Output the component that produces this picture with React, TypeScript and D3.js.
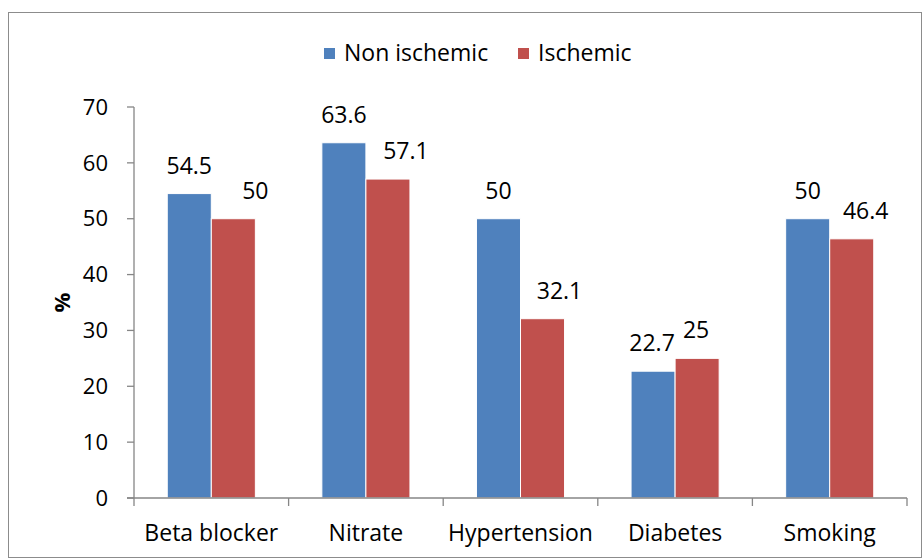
import { useMemo } from "react";
import * as d3 from "d3";

const categories = ["Beta blocker", "Nitrate", "Hypertension", "Diabetes", "Smoking"];
const seriesNames = ["Non ischemic", "Ischemic"];
const nonIschemic = [54.5, 63.6, 50, 22.7, 50];
const ischemic = [50, 57.1, 32.1, 25, 46.4];
const yTicks = [0, 10, 20, 30, 40, 50, 60, 70];

// data labels nudged sideways in the original (Ischemic series)
const LABEL_DX = [
  [0, 0, 0, -1, 0],
  [22, 18, 17, -1, 14],
];

const COLORS = ["#4F81BD", "#C0504D"];
const WIDTH = 924;
const HEIGHT = 559;
const PLOT = { left: 134, right: 907, top: 107, bottom: 498 };
const FONT = "'Open Sans', sans-serif";

export default function App() {
  const xScale = useMemo(
    () => d3.scaleBand<string>().domain(categories).range([PLOT.left, PLOT.right]).paddingInner(0).paddingOuter(0),
    []
  );
  const inner = useMemo(
    () => d3.scaleBand<string>().domain(seriesNames).range([0, xScale.bandwidth()]).paddingOuter(0.755).paddingInner(0),
    [xScale]
  );
  const yScale = useMemo(() => d3.scaleLinear().domain([0, 70]).range([PLOT.bottom, PLOT.top]), []);

  const series = [nonIschemic, ischemic];
  const boundaries = d3.range(categories.length + 1).map((i) => PLOT.left + i * xScale.bandwidth());

  return (
    <svg width={WIDTH} height={HEIGHT} style={{ position: "absolute", left: 0, top: 0 }} fontFamily={FONT}>
      <rect x={8.5} y={12.5} width={913} height={545} fill="white" stroke="#8c8c8c" strokeWidth={1} />

      {/* legend */}
      {seriesNames.map((name, i) => {
        const x0 = i === 0 ? 324 : 518;
        return (
          <g key={name}>
            <rect x={x0} y={48} width={11} height={11} fill={COLORS[i]} />
            <text x={x0 + 20} y={61} fontSize={23} fill="#000">
              {name}
            </text>
          </g>
        );
      })}

      {/* bars */}
      {categories.map((cat, ci) =>
        series.map((vals, si) => {
          const x = (xScale(cat) ?? 0) + (inner(seriesNames[si]) ?? 0);
          const w = inner.bandwidth();
          const y = yScale(vals[ci]);
          return (
            <g key={cat + si}>
              <rect x={x} y={y} width={w} height={PLOT.bottom - y} fill={COLORS[si]} stroke="white" strokeWidth={1} />
              <text x={x + w / 2 + LABEL_DX[si][ci]} y={y - 20} textAnchor="middle" fontSize={23} fill="#000">
                {vals[ci]}
              </text>
            </g>
          );
        })
      )}

      {/* y axis */}
      <line x1={PLOT.left} x2={PLOT.left} y1={PLOT.top} y2={PLOT.bottom} stroke="#868686" strokeWidth={1.3} />
      {yTicks.map((t) => (
        <g key={t}>
          <line x1={PLOT.left - 7} x2={PLOT.left} y1={yScale(t)} y2={yScale(t)} stroke="#868686" strokeWidth={1.3} />
          <text x={PLOT.left - 26} y={yScale(t)} dy="0.35em" textAnchor="end" fontSize={22} fill="#000">
            {t}
          </text>
        </g>
      ))}
      <text
        transform={`translate(62,${(PLOT.top + PLOT.bottom) / 2}) rotate(-90)`}
        textAnchor="middle"
        dy="0.35em"
        fontSize={22}
        fontWeight="bold"
        fill="#000"
      >
        %
      </text>

      {/* x axis */}
      <line x1={PLOT.left - 7} x2={PLOT.right} y1={PLOT.bottom} y2={PLOT.bottom} stroke="#868686" strokeWidth={1.3} />
      {boundaries.map((b, i) => (
        <line key={i} x1={b} x2={b} y1={PLOT.bottom} y2={PLOT.bottom + 8} stroke="#868686" strokeWidth={1.3} />
      ))}
      {categories.map((cat) => (
        <text
          key={cat}
          x={(xScale(cat) ?? 0) + xScale.bandwidth() / 2}
          y={541}
          textAnchor="middle"
          fontSize={23}
          fill="#000"
        >
          {cat}
        </text>
      ))}
    </svg>
  );
}
